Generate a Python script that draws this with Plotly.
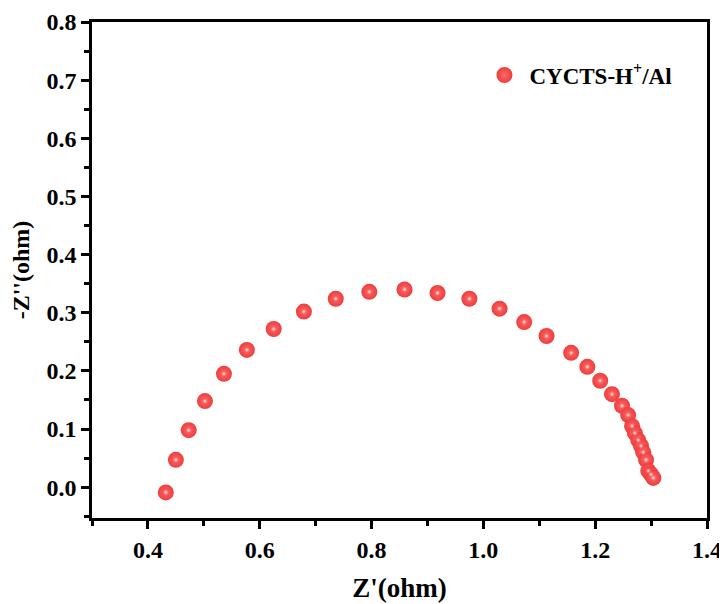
import plotly.graph_objects as go

z_real = [0.432, 0.450, 0.473, 0.502, 0.536, 0.577, 0.625, 0.679, 0.736, 0.796,
          0.859, 0.918, 0.975, 1.029, 1.073, 1.113, 1.157, 1.186, 1.209, 1.230,
          1.248, 1.259, 1.266, 1.271, 1.277, 1.282, 1.286, 1.291, 1.295, 1.300, 1.304]
z_imag = [-0.009, 0.047, 0.098, 0.148, 0.195, 0.236, 0.272, 0.302, 0.324, 0.336,
          0.340, 0.334, 0.324, 0.307, 0.284, 0.260, 0.231, 0.207, 0.183, 0.160,
          0.140, 0.124, 0.105, 0.093, 0.081, 0.071, 0.060, 0.047, 0.028, 0.022, 0.016]
series_name = "CYCTS-H<sup>+</sup>/Al"
x_ticks = [0.4, 0.6, 0.8, 1.0, 1.2, 1.4]
y_ticks = [0.0, 0.1, 0.2, 0.3, 0.4, 0.5, 0.6, 0.7, 0.8]

font = "Liberation Serif"

fig = go.Figure()
fig.add_trace(go.Scatter(
    x=z_real, y=z_imag, mode="markers", name=series_name, legendgroup="s",
    marker=dict(size=16, color="#f03c3c",
                gradient=dict(type="radial", color="#f86a6a"),
                line=dict(width=0)),
))
fig.add_trace(go.Scatter(
    x=z_real, y=z_imag, mode="markers", name=series_name, legendgroup="s",
    showlegend=False, hoverinfo="skip",
    marker=dict(size=7, color="rgba(240,70,70,0)",
                gradient=dict(type="radial", color="#ffffff"),
                line=dict(width=0)),
))

axis_common = dict(
    showline=True, linewidth=2.5, linecolor="black", mirror=True,
    ticks="outside", ticklen=8, tickwidth=2.5, tickcolor="black",
    showgrid=False, zeroline=False, automargin=False,
    tickfont=dict(family=font, size=24, color="black", weight="bold"),
)

fig.update_layout(
    width=727, height=604,
    margin=dict(l=84, r=28, t=14, b=94),
    plot_bgcolor="white", paper_bgcolor="white",
    showlegend=True,
    legend=dict(x=0.63, y=0.893, xanchor="left", yanchor="middle",
                bgcolor="rgba(0,0,0,0)", itemwidth=40,
                font=dict(family=font, size=23, color="black", weight="bold")),
    xaxis=dict(range=[0.3, 1.4], tickvals=x_ticks,
               ticktext=[f"{v:.1f}" for v in x_ticks],
               minor=dict(ticks="outside", dtick=0.1, ticklen=5, tickwidth=2.5, tickcolor="black"),
               title=dict(text="Z'(ohm)", standoff=17,
                          font=dict(family=font, size=27, color="black", weight="bold")),
               **axis_common),
    yaxis=dict(range=[-0.053, 0.8], tickvals=y_ticks,
               ticktext=[f"{v:.1f}" for v in y_ticks],
               minor=dict(ticks="outside", dtick=0.05, tick0=0, ticklen=5, tickwidth=2.5, tickcolor="black"),
               title=dict(text="-Z''(ohm)", standoff=13,
                          font=dict(family=font, size=24, color="black", weight="bold")),
               **axis_common),
)

fig.write_html("out.html")
